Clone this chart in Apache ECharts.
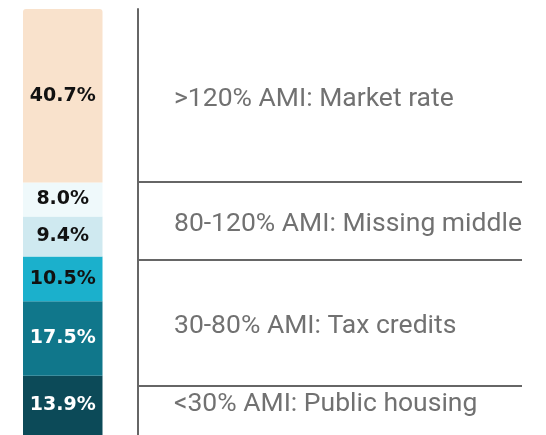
<!DOCTYPE html>
<html>
<head>
<meta charset="utf-8">
<style>
  html, body { margin: 0; padding: 0; background: #ffffff; }
  #chart { width: 546px; height: 435px; }
</style>
<script src="https://cdn.jsdelivr.net/npm/echarts@6/dist/echarts.min.js"></script>
</head>
<body>
<div id="chart"></div>
<script>
// Share of units by income band, bottom segment first (%)
const shares = [13.9, 17.5, 10.5, 9.4, 8.0, 40.7];
const segmentColors = ['#0c4a58', '#10778b', '#1bb0cc', '#cfe9f0', '#eff9fb', '#f9e2cc'];
const segmentTextColors = ['#ffffff', '#ffffff', '#111111', '#111111', '#111111', '#111111'];

// Program tiers, bottom tier first, and how many bar segments each one spans
const tierNames = [
  '<30% AMI: Public housing',
  '30-80% AMI: Tax credits',
  '80-120% AMI: Missing middle',
  '>120% AMI: Market rate'
];
const tierSegments = [1, 2, 2, 1];

// Cumulative tier boundaries measured from the top of the bar
const tierTotals = [];
let seg = 0;
tierSegments.forEach(function (n) {
  let s = 0;
  for (let i = 0; i < n; i++) s += shares[seg++];
  tierTotals.push(s);
});
const topDown = tierTotals.slice().reverse();
const namesTopDown = tierNames.slice().reverse();
const edges = [];
let acc = 0;
topDown.forEach(function (v) { acc += v; edges.push(+acc.toFixed(1)); });
const dividerValues = edges.slice(0, -1);

// Table rows share the same band order, on their own scale;
// the last row closes before the bottom of the plot
const tableMin = 2.36;
const tableMax = 97.17;
const tableEnd = 92.6;
const rowMids = topDown.map(function (v, i) {
  const start = i === 0 ? tableMin : edges[i - 1];
  const end = Math.min(edges[i], tableEnd);
  return (start + end) / 2;
});

const barSeries = shares.map(function (v, i) {
  return {
    type: 'bar',
    stack: 'total',
    xAxisIndex: 0,
    yAxisIndex: 0,
    barWidth: '100%',
    data: [v],
    silent: true,
    itemStyle: {
      color: segmentColors[i],
      borderRadius: i === shares.length - 1 ? [3, 3, 0, 0] : 0
    },
    label: {
      show: true,
      position: 'inside',
      formatter: function (p) { return p.value.toFixed(1) + '%'; },
      color: segmentTextColors[i],
      fontFamily: 'DejaVu Sans',
      fontWeight: 'bold',
      fontSize: 19
    }
  };
});

const chart = echarts.init(document.getElementById('chart'), null, { renderer: 'canvas' });
chart.setOption({
  animation: false,
  backgroundColor: '#ffffff',
  grid: [
    { left: 23, width: 79.5, top: 9, height: 429 },
    { left: 138, right: 24, top: 9, bottom: 0 }
  ],
  xAxis: [
    { gridIndex: 0, type: 'category', data: ['units'], show: false },
    { gridIndex: 1, type: 'value', min: 0, max: 1, show: false }
  ],
  yAxis: [
    { gridIndex: 0, type: 'value', min: 0, max: 100, show: false },
    {
      gridIndex: 1, type: 'value', inverse: true, min: tableMin, max: tableMax,
      axisLine: { show: true, lineStyle: { color: '#666666', width: 2 } },
      axisTick: { show: false }, axisLabel: { show: false }, splitLine: { show: false }
    }
  ],
  series: barSeries.concat([
    {
      type: 'scatter',
      xAxisIndex: 1,
      yAxisIndex: 1,
      symbolSize: 0,
      silent: true,
      data: rowMids.map(function (m, i) { return { value: [0, m], name: namesTopDown[i] }; }),
      label: {
        show: true,
        position: 'right',
        distance: 36,
        offset: [0, 4.5],
        formatter: function (p) { return p.name; },
        color: '#4d4d4d',
        fontFamily: 'Roboto',
        fontSize: 26.5
      },
      markLine: {
        silent: true,
        symbol: 'none',
        label: { show: false },
        lineStyle: { color: '#666666', width: 2, type: 'solid' },
        data: dividerValues.map(function (v) { return { yAxis: v }; })
      }
    }
  ])
});
</script>
</body>
</html>
